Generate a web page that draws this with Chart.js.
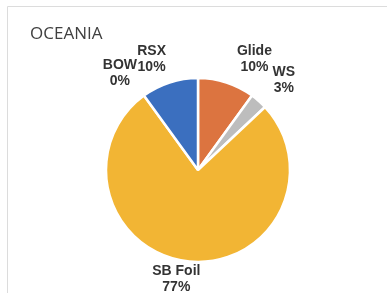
<!DOCTYPE html>
<html>
<head>
<meta charset="utf-8">
<script src="https://cdn.jsdelivr.net/npm/chart.js@4.4.0/dist/chart.umd.min.js"></script>
<style>
  html, body { margin: 0; padding: 0; background: #fff; }
  canvas { display: block; }
</style>
</head>
<body>
<canvas id="c" width="387" height="293"></canvas>
<script>
const title = "OCEANIA";
const categories = ["Glide", "WS", "SB Foil", "BOW", "RSX"];
const values = [10, 3, 77, 0, 10];
const colors = ["#DC7440", "#BDBDBD", "#F2B534", "#F2B534", "#3B6FBF"];
// label nudges relative to each slice's outer mid-point (style only)
const labelOffsets = [[28, -23], [25, -21], [-13, 18], [-24, -22], [-18, -23]];

const decor = {
  id: 'decor',
  beforeDraw(chart) {
    const ctx = chart.ctx;
    ctx.save();
    ctx.fillStyle = '#fff';
    ctx.fillRect(0, 0, chart.width, chart.height);
    ctx.strokeStyle = '#dcdcdc';
    ctx.lineWidth = 1;
    ctx.beginPath();
    ctx.moveTo(7.5, chart.height);
    ctx.lineTo(7.5, 6.5);
    ctx.lineTo(chart.width, 6.5);
    ctx.stroke();
    ctx.fillStyle = '#404040';
    ctx.font = '17px "Open Sans"';
    ctx.textBaseline = 'alphabetic';
    ctx.textAlign = 'left';
    ctx.fillText(title, 30, 39);
    ctx.restore();
  },
  afterDatasetsDraw(chart) {
    const ctx = chart.ctx;
    const meta = chart.getDatasetMeta(0);
    const total = values.reduce((a, b) => a + b, 0);
    ctx.save();
    ctx.fillStyle = '#333';
    ctx.font = 'bold 14px "Liberation Sans", Arial, sans-serif';
    ctx.textAlign = 'center';
    ctx.textBaseline = 'middle';
    meta.data.forEach((arc, i) => {
      const p = arc.getProps(['x', 'y', 'startAngle', 'endAngle', 'outerRadius'], true);
      const mid = (p.startAngle + p.endAngle) / 2;
      const ax = p.x + Math.cos(mid) * p.outerRadius + labelOffsets[i][0];
      const ay = p.y + Math.sin(mid) * p.outerRadius + labelOffsets[i][1];
      const pct = Math.round(values[i] / total * 100) + '%';
      ctx.fillText(categories[i], ax, ay - 8);
      ctx.fillText(pct, ax, ay + 8);
    });
    ctx.restore();
  }
};

new Chart(document.getElementById('c'), {
  type: 'pie',
  data: {
    labels: categories,
    datasets: [{
      data: values,
      backgroundColor: colors,
      borderColor: '#ffffff',
      borderWidth: 2.5,
      radius: 92
    }]
  },
  options: {
    responsive: false,
    animation: false,
    layout: { padding: { left: 106, right: 97, top: 78, bottom: 31 } },
    plugins: { legend: { display: false }, tooltip: { enabled: false }, title: { display: false } }
  },
  plugins: [decor]
});
</script>
</body>
</html>
